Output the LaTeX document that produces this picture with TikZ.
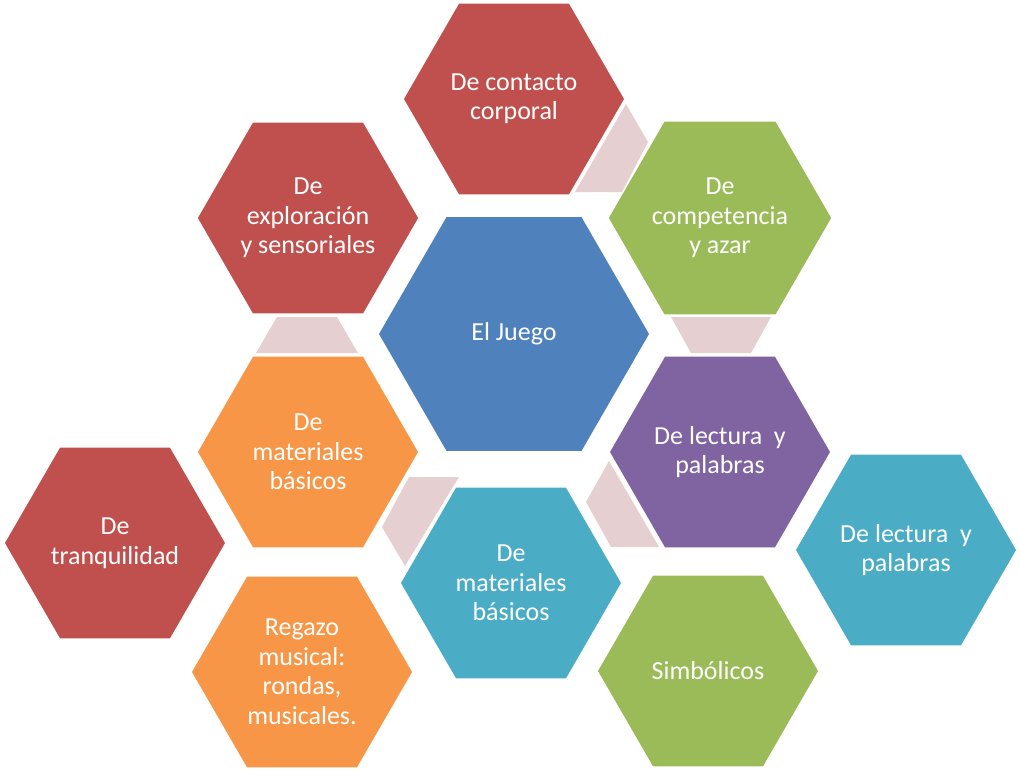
\documentclass[tikz,border=0pt]{standalone}
\usepackage{fontspec}
\setmainfont{Carlito}
\usetikzlibrary{shapes.geometric}
\definecolor{hred}{HTML}{C0504D}
\definecolor{hgreen}{HTML}{9BBB59}
\definecolor{hblue}{HTML}{4F81BD}
\definecolor{hpurple}{HTML}{8064A2}
\definecolor{hteal}{HTML}{4BACC6}
\definecolor{horange}{HTML}{F79646}
\definecolor{hpink}{HTML}{E6CFD1}
\tikzset{
  hexa/.style={regular polygon, regular polygon sides=6, minimum size=220pt,
    inner sep=0pt, outer sep=0pt, draw=none, text=white, align=center,
    font=\fontsize{26}{29.5}\selectfont},
  bighexa/.style={hexa, minimum size=270pt},
  linkpiece/.style={fill=hpink, draw=none}
}
\begin{document}
\begin{tikzpicture}[x=1pt,y=-1pt]
\useasboundingbox (0,0) rectangle (1020,771);
% connecting pieces
\fill[linkpiece] (626,104) -- (648,142) -- (622,192) -- (575,192) -- cycle;
\fill[linkpiece] (277,317) -- (337,317) -- (358,353) -- (256,353) -- cycle;
\fill[linkpiece] (671,317) -- (771,317) -- (751,353) -- (691,353) -- cycle;
\fill[linkpiece] (409,477) -- (459,477) -- (454,485) -- (405,566) -- (382,527) -- cycle;
\fill[linkpiece] (609,461) -- (586,502) -- (611,547) -- (659,547) -- cycle;
% hexagons
\node[hexa, fill=hred] (contacto) at (514,99) {De contacto\\corporal};
\node[hexa, fill=hred] (exploracion) at (308,218) {De\\exploración\\y sensoriales};
\node[hexa, fill=hgreen] (competencia) at (720,218) {De\\competencia\\y azar};
\node[bighexa, fill=hblue] (juego) at (514,334) {El Juego};
\node[hexa, fill=horange] (materialesA) at (308,452) {De\\materiales\\básicos};
\node[hexa, fill=hpurple] (lecturaA) at (720,452) {De lectura\hspace{0.45em}y\\palabras};
\node[hexa, fill=hred] (tranquilidad) at (115,543) {De\\tranquilidad};
\node[hexa, fill=hteal] (materialesB) at (511,583) {De\\materiales\\básicos};
\node[hexa, fill=hteal] (lecturaB) at (906,550) {De lectura\hspace{0.45em}y\\palabras};
\node[hexa, fill=horange] (regazo) at (302,672) {Regazo\\musical:\\rondas,\\musicales.};
\node[hexa, fill=hgreen] (simbolicos) at (708,671) {Simbólicos};
\end{tikzpicture}
\end{document}
